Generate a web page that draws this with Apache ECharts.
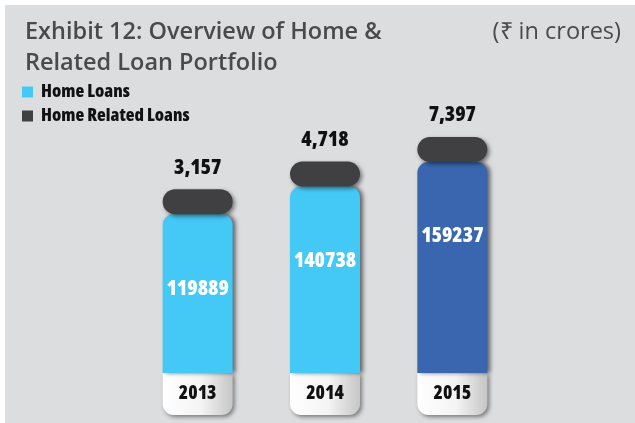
<!DOCTYPE html>
<html><head><meta charset="utf-8">
<script src="https://cdn.jsdelivr.net/npm/echarts@6/dist/echarts.min.js"></script>
<style>html,body{margin:0;padding:0;background:#fff}#c{width:635px;height:423px}</style>
</head><body><div id="c"></div>
<script>
const years = ['2013', '2014', '2015'];
const homeLoans = [119889, 140738, 159237];
const homeRelated = [3157, 4718, 7397];
const barColors = ['#44c8f5', '#44c8f5', '#3a66b0'];

const cFam = "'Open Sans','Open Sans Condensed',sans-serif";
const cW = '800 condensed';
const chart = echarts.init(document.getElementById('c'));
const pill = 'path://M12.5,0 L57.5,0 A12.5,12.5 0 0 1 57.5,25 L12.5,25 A12.5,12.5 0 0 1 12.5,0 Z';
chart.setOption({
  backgroundColor: '#ffffff',
  animation: false,
  graphic: [{ type: 'rect', z: -10, shape: { x: 5, y: 5, width: 640, height: 430 }, style: { fill: '#dcdddf' } }],
  title: [
    { text: 'Exhibit 12: Overview of Home &\nRelated Loan Portfolio', left: 20, top: 12,
      textStyle: { fontFamily: "'Open Sans',sans-serif", fontSize: 23.5, fontWeight: 600, color: '#4a4a4c', lineHeight: 31 } },
    { text: '(₹ in crores)', right: 9, top: 12,
      textStyle: { fontFamily: "'Open Sans',sans-serif", fontSize: 23.5, fontWeight: 500, color: '#4a4a4c', lineHeight: 31 } }
  ],
  legend: {
    orient: 'vertical', left: 22, top: 83, padding: 0, itemWidth: 11, itemHeight: 11, itemGap: 6,
    textStyle: { fontFamily: cFam, fontWeight: cW, fontSize: 18, color: '#111', padding: [0, 0, 0, 3] },
    data: [
      { name: 'Home Loans', icon: 'rect', itemStyle: { color: '#44c8f5' } },
      { name: 'Home Related Loans', icon: 'rect', itemStyle: { color: '#404042' } }
    ]
  },
  grid: { left: 134, right: 119, top: 108, bottom: 50 },
  xAxis: {
    type: 'category', data: years,
    axisLine: { show: false }, axisTick: { show: false },
    axisLabel: {
      margin: 0, color: '#111', fontFamily: cFam, fontWeight: cW, fontSize: 19,
      width: 70, height: 42, lineHeight: 42, align: 'center', verticalAlign: 'top',
      backgroundColor: { type: 'linear', x: 0, y: 0, x2: 1, y2: 0,
        colorStops: [{ offset: 0, color: '#ffffff' }, { offset: 0.55, color: '#f4f4f4' }, { offset: 1, color: '#c6c6c6' }] },
      borderRadius: [0, 0, 11, 11],
      shadowColor: 'rgba(0,0,0,0.45)', shadowBlur: 4, shadowOffsetX: 2, shadowOffsetY: 2
    }
  },
  yAxis: { type: 'value', min: 0, max: 200000, show: false, splitLine: { show: false } },
  series: [
    {
      name: 'Home Loans', type: 'bar', barWidth: 70, z: 2,
      data: homeLoans.map((v, i) => ({ value: v, itemStyle: { color: barColors[i] } })),
      itemStyle: { borderRadius: [11, 11, 0, 0], shadowColor: 'rgba(0,0,0,0.55)', shadowBlur: 4, shadowOffsetX: 3, shadowOffsetY: 0 },
      label: { show: true, position: 'insideTop', distance: 64, color: '#fff', fontFamily: cFam, fontWeight: cW, fontSize: 21 }
    },
    {
      name: 'Home Related Loans', type: 'scatter', z: 3,
      data: homeLoans.map((v, i) => ({ value: [i, v] })),
      symbol: pill, symbolSize: [70, 25], symbolOffset: [0, -12.5],
      itemStyle: { color: '#404042', opacity: 1, shadowColor: 'rgba(0,0,0,0.5)', shadowBlur: 4, shadowOffsetX: 2, shadowOffsetY: 2 },
      label: { show: true, position: 'top', distance: 11, color: '#111', fontFamily: cFam, fontWeight: cW, fontSize: 21,
        formatter: p => homeRelated[p.dataIndex].toLocaleString('en-US') }
    }
  ]
});
</script></body></html>
